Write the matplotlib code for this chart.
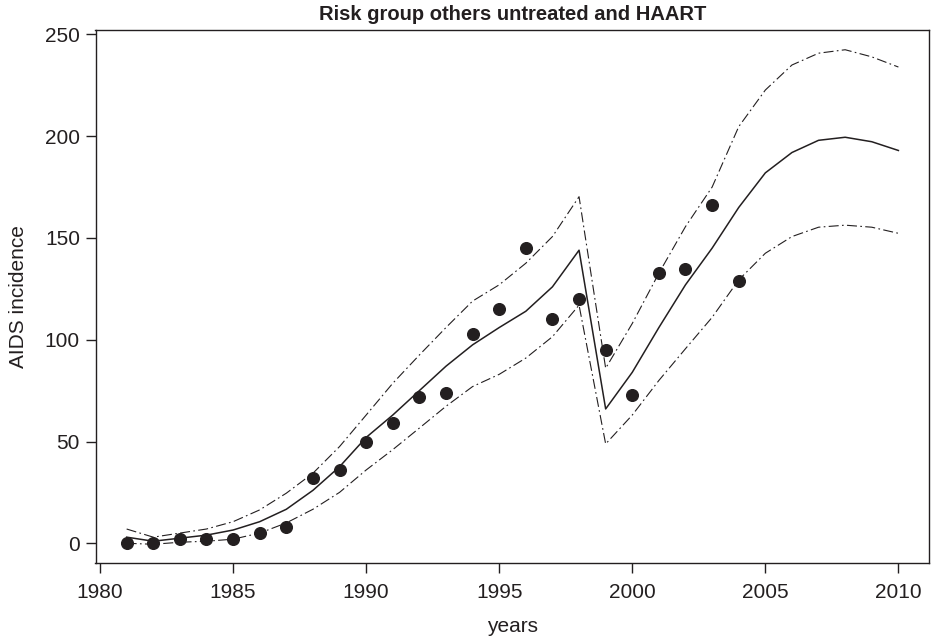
import matplotlib
matplotlib.use("Agg")
import matplotlib.pyplot as plt

plt.rcParams['font.family'] = ['Liberation Sans', 'DejaVu Sans']

obs_years = list(range(1981, 2005))
obs_values = [0, 0, 2, 2, 2, 5, 8, 32, 36, 50, 59, 72, 74, 103, 115, 145, 110, 120,
              95, 73, 133, 135, 166, 129]

fit_years = list(range(1981, 2011))
fit_mean = [3, 1, 2.5, 4, 6.5, 10.6, 16.7, 26, 37.6, 52, 63, 75, 87, 97.5, 106, 114,
            126, 144, 66, 84, 106, 127, 145, 165, 182, 192, 198, 199.5, 197.3, 193]
fit_upper = [7, 3, 5, 7, 10.6, 16.4, 24.6, 34.4, 47.5, 63, 78.6, 92.5, 106, 119,
             127, 137.6, 150.7, 170.3, 86, 108, 132.7, 155.6, 175, 204.7, 222.7,
             235, 240.8, 242.5, 239, 234]
fit_lower = [0, -0.5, 0.5, 1, 2, 5, 10, 16.7, 25, 36, 46, 56.6, 67.3, 77, 83, 91,
             101.5, 117, 48.8, 63, 80, 95.6, 111, 129.4, 142.5, 150.7, 155.3, 156.3,
             155.3, 152.3]

xticks = [1980, 1985, 1990, 1995, 2000, 2005, 2010]
yticks = [0, 50, 100, 150, 200, 250]

ink = '#231f20'
fig = plt.figure(figsize=(9.34, 6.42), dpi=100)
ax = fig.add_axes([95.5/934, 1 - 563/642, (929 - 95.5)/934, (563 - 30)/642])

dashdot = (0, (9, 3, 1.5, 3))
ax.plot(fit_years, fit_upper, color=ink, lw=0.8, linestyle=dashdot)
ax.plot(fit_years, fit_lower, color=ink, lw=0.8, linestyle=dashdot)
ax.plot(fit_years, fit_mean, color=ink, lw=1.1)
ax.plot(obs_years, obs_values, 'o', color=ink, markersize=8.4, linestyle='none')

ax.set_xlim(1979.83, 2011.15)
ax.set_ylim(-9.7, 252.2)
ax.set_xticks(xticks)
ax.set_yticks(yticks)
ax.tick_params(labelsize=15, colors=ink, length=7.2, width=1.0, direction='out')
ax.tick_params(axis='x', pad=7.5)
ax.tick_params(axis='y', pad=4)
for s in ax.spines.values():
    s.set_color(ink)
    s.set_linewidth(1.0)

ax.set_xlabel('years', fontsize=15, color=ink)
ax.set_ylabel('AIDS incidence', fontsize=15, color=ink)
ax.xaxis.set_label_coords(0.5, (563 - 617) / 533)
ax.yaxis.set_label_coords((28 - 95.5) / 833.5, 0.5)
ax.set_title('Risk group others untreated and HAART', fontsize=14.5, fontweight='bold',
             color=ink, pad=7)

fig.savefig('out.png', dpi=100)
